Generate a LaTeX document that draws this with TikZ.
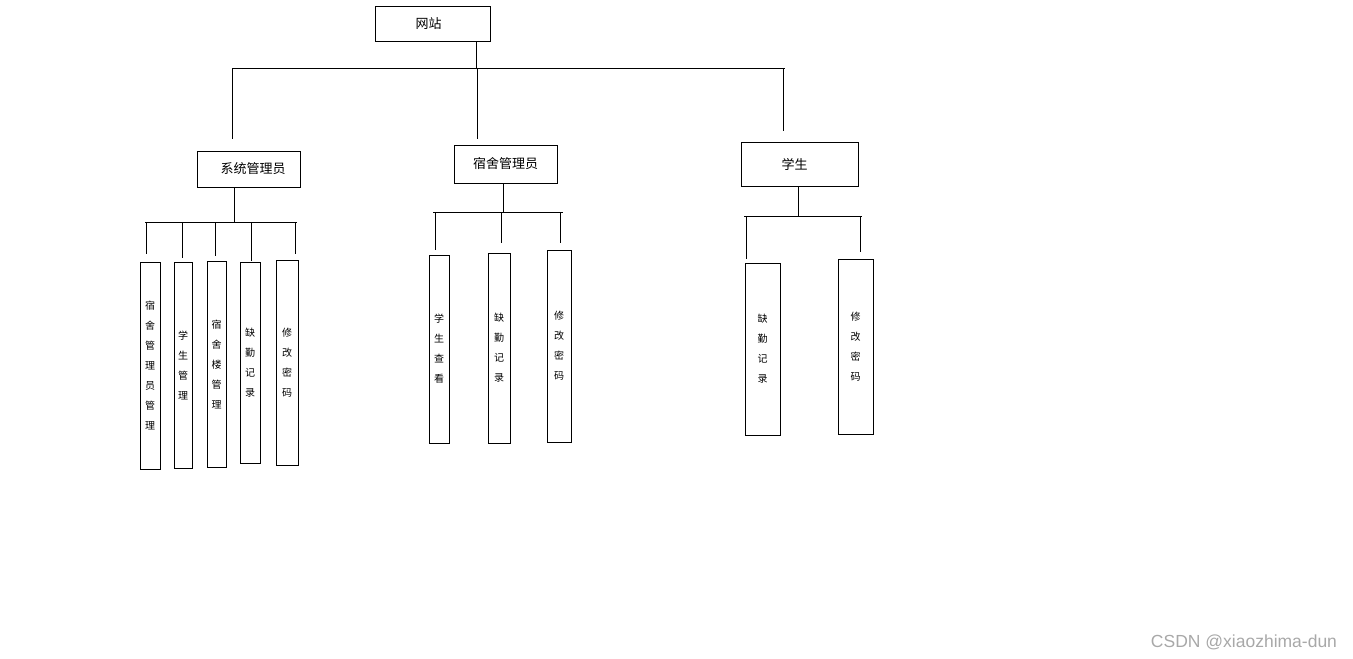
\documentclass[tikz,border=0pt]{standalone}
\usepackage{fontspec}
\setmainfont{Liberation Sans}
\newfontfamily\cjk{Noto Sans CJK SC}
\usetikzlibrary{positioning}
\definecolor{markgray}{HTML}{A8A8A8}

\begin{document}
\begin{tikzpicture}[x=1pt, y=-1pt, line width=0.8pt,
    box/.style={draw, line width=1pt, inner sep=0pt, font=\cjk\fontsize{13}{15}\selectfont},
    vbox/.style={draw, line width=1pt, inner sep=0pt, align=center, font=\cjk\fontsize{10}{20}\selectfont}]
    \useasboundingbox (0,0) rectangle (1353,659);
    % top level
    \node[box, minimum width=115, minimum height=35] (web) at (432.5,23.5) {网站\hspace{8pt}\mbox{}};
    \node[box, minimum width=103, minimum height=36] (sysadm) at (248.5,169) {\hspace{9pt}系统管理员};
    \node[box, minimum width=103, minimum height=38] (dormadm) at (505.5,164) {宿舍管理员};
    \node[box, minimum width=117, minimum height=44] (stu) at (799.5,164) {学生\hspace{10pt}\mbox{}};
    \coordinate (web-j) at (476,68);
    \coordinate (top-l) at (232,68);
    \coordinate (top-r) at (785,68);
    \draw (web.south -| web-j) -- (web-j);
    \draw (top-l) -- (top-r);
    \foreach \x/\y [count=\i] in {232/139, 477/139, 783/131} {
        \coordinate (top-d\i) at (\x,\y);
        \draw (top-d\i |- top-l) -- (top-d\i);
    }
    % system admin
    \node[vbox, minimum width=20, minimum height=207] (sa1) at (150,365.5) {宿\\舍\\管\\理\\员\\管\\理};
    \node[vbox, minimum width=18, minimum height=206] (sa2) at (183,365) {学\\生\\管\\理};
    \node[vbox, minimum width=19, minimum height=206] (sa3) at (216.5,364) {宿\\舍\\楼\\管\\理};
    \node[vbox, minimum width=20, minimum height=201] (sa4) at (250,362.5) {缺\\勤\\记\\录};
    \node[vbox, minimum width=22, minimum height=205] (sa5) at (287,362.5) {修\\改\\密\\码};
    \coordinate (sa-j) at (234,222);
    \coordinate (sa-l) at (145,222);
    \coordinate (sa-r) at (297,222);
    \draw (sysadm.south -| sa-j) -- (sa-j);
    \draw (sa-l) -- (sa-r);
    \foreach \x/\y [count=\i] in {146/254, 182/258, 215/256, 251/261, 295/254} {
        \coordinate (sa-d\i) at (\x,\y);
        \draw (sa-d\i |- sa-l) -- (sa-d\i);
    }
    % dorm admin
    \node[vbox, minimum width=20, minimum height=188] (da1) at (439,349) {学\\生\\查\\看};
    \node[vbox, minimum width=22, minimum height=190] (da2) at (499,348) {缺\\勤\\记\\录};
    \node[vbox, minimum width=24, minimum height=192] (da3) at (559,346) {修\\改\\密\\码};
    \coordinate (da-j) at (503,212);
    \coordinate (da-l) at (433,212);
    \coordinate (da-r) at (563,212);
    \draw (dormadm.south -| da-j) -- (da-j);
    \draw (da-l) -- (da-r);
    \foreach \x/\y [count=\i] in {435/250, 501/243, 560/243} {
        \coordinate (da-d\i) at (\x,\y);
        \draw (da-d\i |- da-l) -- (da-d\i);
    }
    % student
    \node[vbox, minimum width=35, minimum height=172] (st1) at (762.5,349) {缺\\勤\\记\\录};
    \node[vbox, minimum width=35, minimum height=175] (st2) at (855.5,346.5) {修\\改\\密\\码};
    \coordinate (st-j) at (798,216);
    \coordinate (st-l) at (744,216);
    \coordinate (st-r) at (862,216);
    \draw (stu.south -| st-j) -- (st-j);
    \draw (st-l) -- (st-r);
    \foreach \x/\y [count=\i] in {746/259, 860/252} {
        \coordinate (st-d\i) at (\x,\y);
        \draw (st-d\i |- st-l) -- (st-d\i);
    }
    \node[font=\fontsize{17.5}{19}\selectfont, text=markgray] (mark) at (1244,642) {CSDN @xiaozhima-dun};
\end{tikzpicture}
\end{document}
